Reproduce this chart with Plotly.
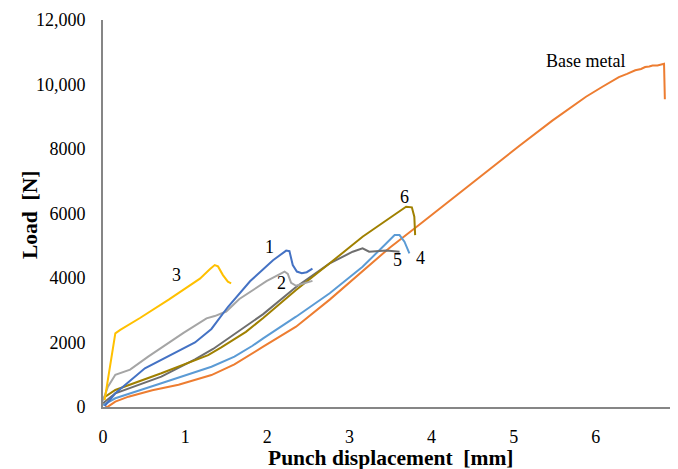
import plotly.graph_objects as go

# Base metal
bm_x = [0.03, 0.06, 0.15, 0.31, 0.6, 0.92, 1.32, 1.6, 1.95, 2.35, 2.76, 3.16, 3.49, 3.85, 4.26, 4.66,
        5.07, 5.47, 5.88, 6.08, 6.2, 6.28, 6.38, 6.48, 6.55, 6.6, 6.65, 6.69, 6.75, 6.8, 6.83, 6.84]
bm_y = [0, 10, 165, 320, 520, 690, 990, 1320, 1870, 2490, 3330, 4220, 4940, 5650, 6480, 7280,
        8100, 8880, 9620, 9930, 10110, 10230, 10330, 10440, 10480, 10540, 10560, 10590, 10590, 10630, 10640, 9540]

# Specimen 1
s1_x = [0.02, 0.15, 0.51, 0.85, 1.12, 1.32, 1.52, 1.79, 2.07, 2.23, 2.27, 2.31, 2.36, 2.42, 2.48, 2.55]
s1_y = [30, 425, 1200, 1660, 2000, 2420, 3100, 3900, 4550, 4850, 4830, 4400, 4200, 4150, 4180, 4290]

# Specimen 2
s2_x = [0.0, 0.06, 0.15, 0.33, 0.55, 0.98, 1.26, 1.36, 1.5, 1.66, 1.99, 2.15, 2.21, 2.25, 2.29, 2.35, 2.43, 2.55]
s2_y = [200, 630, 1000, 1160, 1560, 2300, 2750, 2820, 2960, 3350, 3900, 4120, 4200, 4130, 3850, 3760, 3820, 3910]

# Specimen 3
s3_x = [0.02, 0.085, 0.15, 0.21, 0.45, 0.8, 1.18, 1.3, 1.36, 1.4, 1.46, 1.52, 1.56]
s3_y = [217, 1250, 2285, 2390, 2760, 3330, 3980, 4270, 4400, 4360, 4090, 3885, 3835]

# Specimen 4
s4_x = [0.0, 0.15, 0.71, 1.32, 1.6, 1.82, 1.95, 2.35, 2.76, 3.16, 3.45, 3.55, 3.61, 3.67, 3.73]
s4_y = [60, 270, 735, 1250, 1560, 1900, 2130, 2800, 3525, 4350, 5075, 5330, 5330, 5125, 4765]

# Specimen 5
s5_x = [0.0, 0.15, 0.71, 1.12, 1.34, 1.6, 1.95, 2.35, 2.76, 3.04, 3.16, 3.24, 3.45, 3.61]
s5_y = [115, 425, 940, 1480, 1800, 2250, 2880, 3720, 4455, 4815, 4920, 4815, 4850, 4815]

# Specimen 6
s6_x = [0.0, 0.15, 0.71, 1.28, 1.44, 1.6, 1.74, 1.95, 2.35, 2.76, 3.16, 3.57, 3.69, 3.76, 3.79, 3.8]
s6_y = [270, 527, 1045, 1610, 1850, 2100, 2330, 2760, 3630, 4455, 5280, 6000, 6210, 6190, 5900, 5330]

y_tick_vals = [0, 2000, 4000, 6000, 8000, 10000, 12000]
y_tick_text = ["0", "2000", "4000", "6000", "8000", "10,000", "12,000"]
x_tick_vals = [0, 1, 2, 3, 4, 5, 6, 7]

label_text = ["1", "2", "3", "4", "5", "6", "Base metal"]
label_x = [2.03, 2.17, 0.89, 3.86, 3.58, 3.67, 5.87]
label_y = [4960, 3845, 4090, 4620, 4560, 6510, 10730]

serif = "Liberation Serif, Times New Roman, serif"

series = [
    (bm_x, bm_y, "#ED7D31"),
    (s4_x, s4_y, "#5B9BD5"),
    (s5_x, s5_y, "#6E6E6E"),
    (s6_x, s6_y, "#A08000"),
    (s2_x, s2_y, "#A5A5A5"),
    (s1_x, s1_y, "#4472C4"),
    (s3_x, s3_y, "#FFC000"),
]

fig = go.Figure()
for xs, ys, c in series:
    fig.add_trace(go.Scatter(x=xs, y=ys, mode="lines", line=dict(color=c, width=2), showlegend=False,
                             cliponaxis=False))

for t, x, y in zip(label_text, label_x, label_y):
    fig.add_annotation(x=x, y=y, text=t, showarrow=False, font=dict(family=serif, size=18, color="black"))

# axis titles
fig.add_annotation(xref="paper", yref="paper", x=0.5, y=-0.132, yanchor="middle", xanchor="center",
                   text="<b>Punch displacement\u00a0\u00a0[mm]</b>", showarrow=False,
                   font=dict(family=serif, size=21.5, color="black"))
fig.add_annotation(xref="paper", yref="paper", x=-0.127, y=0.496, yanchor="middle", xanchor="center",
                   text="<b>Load\u00a0\u00a0[N]</b>", textangle=-90, showarrow=False,
                   font=dict(family=serif, size=21.5, color="black"))

fig.update_layout(
    width=670, height=461,
    margin=dict(l=95, r=0, t=12, b=62, autoexpand=False),
    plot_bgcolor="white", paper_bgcolor="white",
    font=dict(family=serif, size=18, color="black"),
)
fig.update_xaxes(
    range=[0, 7], tickvals=x_tick_vals, showgrid=False, zeroline=False, automargin=False,
    showline=True, linecolor="#868686", linewidth=2,
    ticks="outside", ticklen=12, tickcolor="rgba(0,0,0,0)",
)
fig.update_yaxes(
    range=[0, 12000], tickvals=y_tick_vals, ticktext=y_tick_text, showgrid=False, zeroline=False,
    automargin=False,
    showline=True, linecolor="#868686", linewidth=2,
    ticks="outside", ticklen=12, tickcolor="rgba(0,0,0,0)",
)

fig.write_html("out.html")
